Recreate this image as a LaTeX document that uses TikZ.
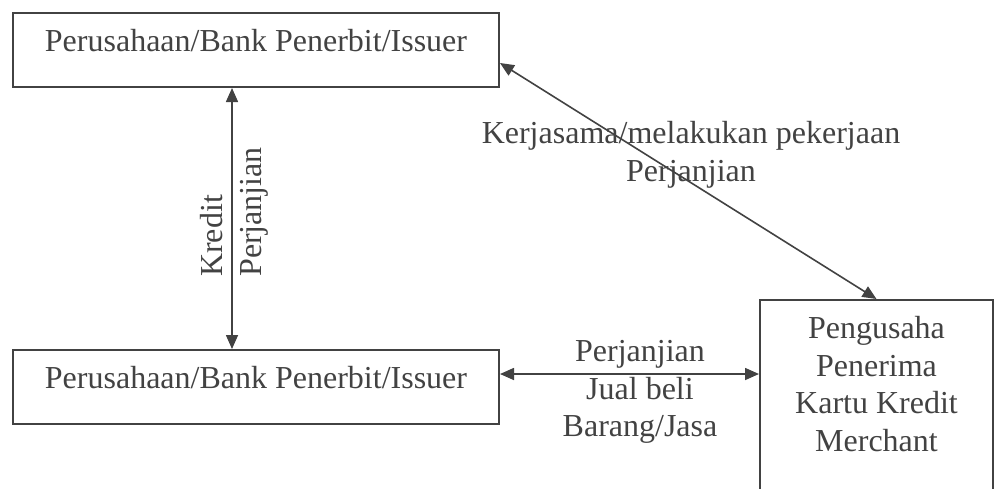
\documentclass[tikz,border=0pt]{standalone}
\usepackage{fontspec}
\setmainfont{Liberation Serif}
\usepackage{xcolor}
\usetikzlibrary{arrows.meta}
\colorlet{ink}{black!74}

\begin{document}
\begin{tikzpicture}[x=0.5pt, y=-0.5pt, color=ink,
    font=\fontsize{16}{18.9}\selectfont,
    party/.style={draw, line width=1pt, minimum width=243pt, inner ysep=8pt,
      text height=11pt, text depth=10pt, anchor=north west},
    merchbox/.style={draw, line width=1pt, minimum width=116.5pt, inner ysep=8pt,
      text depth=100pt, align=center, anchor=north west},
    link/.style={line width=0.8pt,
      {Triangle[length=7pt,width=6pt]}-{Triangle[length=7pt,width=6pt]}},
    descr/.style={align=center, inner sep=0pt}
  ]
  \useasboundingbox (0,0) rectangle (1001,488);
  \clip (0,0) rectangle (1001,488);

  \node[party] (issuertop) at (12,12) {Perusahaan/Bank Penerbit/Issuer};
  \node[party] (issuerbot) at (12,349) {Perusahaan/Bank Penerbit/Issuer};
  \node[merchbox] (merchant) at (759,299) {Pengusaha\\Penerima\\Kartu Kredit\\Merchant};
  \coordinate (saleleft) at ([yshift=6.5pt]issuerbot.east);

  \path[link]
    ([xshift=-12pt]issuertop.south) edge
      node[pos=0.757, rotate=90, anchor=south west, inner sep=4pt]{Kredit}
      node[pos=0.757, rotate=90, anchor=north west, inner sep=4pt]{Perjanjian}
      ([xshift=-12pt]issuerbot.north)
    ([yshift=-6.5pt]issuertop.east) edge (merchant.north)
    (saleleft) edge (saleleft -| merchant.west)
    ;
  \node[descr] (coop) at (691,155) {Kerjasama/melakukan pekerjaan\\Perjanjian};
  \node[descr] (sale) at (640,392) {Perjanjian\\Jual beli\\Barang/Jasa};
\end{tikzpicture}
\end{document}
